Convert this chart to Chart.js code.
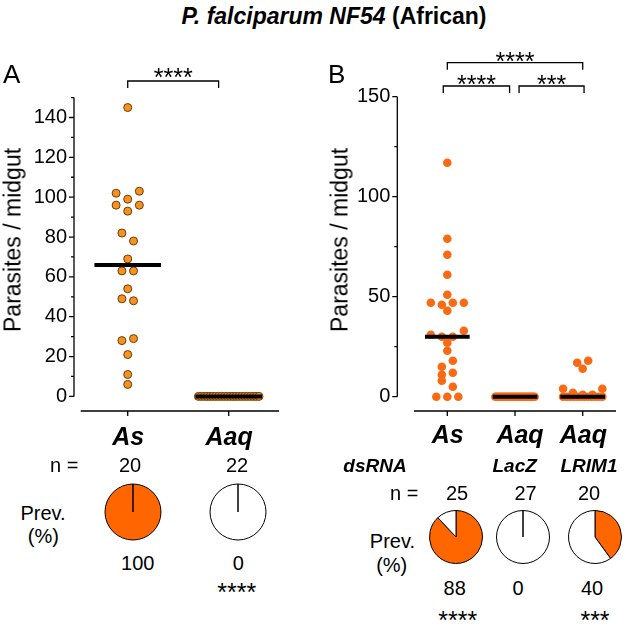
<!DOCTYPE html>
<html>
<head>
<meta charset="utf-8">
<script src="https://cdn.jsdelivr.net/npm/chart.js@4.4.0/dist/chart.umd.min.js"></script>
<style>
  body { margin: 0; background: #fff; width: 625px; height: 624px; position: relative; overflow: hidden; }
  canvas { position: absolute; }
  .t { position: absolute; white-space: nowrap; color: #000; }
</style>
</head>
<body>
<canvas id="chartA" width="300" height="385" style="left:0px;top:40px"></canvas>
<canvas id="chartB" width="315" height="385" style="left:310px;top:40px"></canvas>
<canvas id="pieA0" width="60" height="60" style="left:103px;top:482px"></canvas>
<canvas id="pieA1" width="60" height="60" style="left:208px;top:482px"></canvas>
<canvas id="pieB0" width="58" height="58" style="left:427px;top:508px"></canvas>
<canvas id="pieB1" width="58" height="58" style="left:494px;top:508px"></canvas>
<canvas id="pieB2" width="58" height="58" style="left:566px;top:508px"></canvas>
<script>
// ---- data ----
const groupsA = ['As', 'Aaq'];
const parasitesA_As = [145, 102, 99, 103, 96, 93, 96, 82, 78, 69, 63, 63, 54, 49, 48, 28, 29, 21, 6, 11];
const parasitesA_Aaq = [0, 0, 0, 0, 0, 0, 0, 0, 0, 0, 0, 0, 0, 0, 0, 0, 0, 0, 0, 0, 0, 0];
const sigA = ['', '****'];

const groupsB = ['As', 'Aaq', 'Aaq'];
const dsrnaB = ['', 'LacZ', 'LRIM1'];
const parasitesB_As = [117, 79, 71, 61, 51, 47, 46, 43, 47, 47, 31, 30, 30, 33, 27, 23, 15, 18, 11, 8, 12, 0, 0, 0, 5];
const parasitesB_LacZ = [0, 0, 0, 0, 0, 0, 0, 0, 0, 0, 0, 0, 0, 0, 0, 0, 0, 0, 0, 0, 0, 0, 0, 0, 0, 0, 0];
const parasitesB_LRIM1 = [17, 14, 18, 4, 2, 1, 0, 0, 0, 0, 0, 0, 0, 0, 0, 0, 0, 0, 1, 4];
const sigB = ['****', '', '***'];

const yTicksA = [0, 20, 40, 60, 80, 100, 120, 140];
const yMinorA = [10, 30, 50, 70, 90, 110, 130, 150];
const yTicksB = [0, 50, 100, 150];
const yMinorB = [25, 75, 125];

const bracketsA = [{ from: 0, to: 0.9, rise: 16.6, label: '****' }];
const bracketsB = [
  { from: 0, to: 2, rise: 34, label: '****' },
  { from: -0.06, to: 0.92, rise: 10.7, label: '****' },
  { from: 1.06, to: 2.02, rise: 10.7, label: '***' }
];

const FONT = '"Liberation Sans", Arial, Helvetica, sans-serif';

// spread points of similar value side by side (column scatter)
function swarm(values, center, binSize, step, maxHalf) {
  const idx = values.map((v, i) => i).sort((a, b) => values[b] - values[a] || a - b);
  const pts = [];
  let bin = [];
  let start = 0;
  const flush = () => {
    bin.sort((a, b) => a - b);
    const k = bin.length;
    const s = k > 1 ? Math.min(step, 2 * maxHalf / (k - 1)) : 0;
    bin.forEach((i, j) => pts.push({ x: center + (j - (k - 1) / 2) * s, y: values[i] }));
    bin = [];
  };
  idx.forEach(i => {
    if (bin.length && start - values[i] >= binSize) flush();
    if (!bin.length) start = values[i];
    bin.push(i);
  });
  flush();
  return pts;
}

function median(values) {
  const s = values.slice().sort((a, b) => a - b);
  const m = Math.floor(s.length / 2);
  return s.length % 2 ? s[m] : (s[m - 1] + s[m]) / 2;
}

function medianLine(values, i) {
  const m = median(values);
  return {
    type: 'line',
    data: [{ x: i - 0.33, y: m }, { x: i + 0.33, y: m }],
    borderColor: '#000',
    borderWidth: 4,
    pointRadius: 0,
    order: 0
  };
}

// axis lines, minor ticks and significance brackets, GraphPad style
const axesPlugin = {
  id: 'axes',
  afterDatasetsDraw(chart, args, o) {
    const ctx = chart.ctx;
    const x = chart.scales.x, y = chart.scales.y;
    const a = chart.chartArea;
    ctx.save();
    ctx.strokeStyle = '#000';
    ctx.lineWidth = 1.3;
    ctx.beginPath();
    ctx.moveTo(a.left, y.getPixelForValue(0));
    ctx.lineTo(a.left, y.getPixelForValue(o.yTop));
    o.major.forEach(v => { const p = y.getPixelForValue(v); ctx.moveTo(a.left - 5, p); ctx.lineTo(a.left, p); });
    o.minor.forEach(v => { const p = y.getPixelForValue(v); ctx.moveTo(a.left - 3, p); ctx.lineTo(a.left, p); });
    ctx.moveTo(a.left + o.xGap, a.bottom);
    ctx.lineTo(a.right, a.bottom);
    for (let i = 0; i < o.cats; i++) {
      const p = x.getPixelForValue(i);
      ctx.moveTo(p, a.bottom);
      ctx.lineTo(p, a.bottom + 5);
    }
    ctx.stroke();
    ctx.fillStyle = '#000';
    ctx.font = '25px ' + FONT;
    ctx.textAlign = 'center';
    ctx.textBaseline = 'alphabetic';
    o.brackets.forEach(b => {
      const x1 = x.getPixelForValue(b.from), x2 = x.getPixelForValue(b.to);
      const yy = a.top - b.rise;
      ctx.beginPath();
      ctx.moveTo(x1, yy + 7);
      ctx.lineTo(x1, yy);
      ctx.lineTo(x2, yy);
      ctx.lineTo(x2, yy + 7);
      ctx.stroke();
      ctx.fillText(b.label, (x1 + x2) / 2, yy - o.labelGap + 0.58 * 25);
    });
    ctx.restore();
  }
};

function scatterChart(id, groups, sets, cfg) {
  const datasets = [];
  sets.forEach((vals, i) => datasets.push(medianLine(vals, i)));
  sets.forEach((vals, i) => datasets.push({
    type: 'scatter',
    data: swarm(vals, i, cfg.bin, cfg.step, cfg.maxHalf),
    backgroundColor: cfg.fill,
    borderColor: cfg.stroke,
    borderWidth: cfg.strokeWidth,
    pointRadius: cfg.radius,
    order: 1
  }));
  return new Chart(document.getElementById(id), {
    type: 'scatter',
    data: { datasets: datasets },
    options: {
      responsive: false,
      animation: false,
      events: [],
      layout: { padding: cfg.padding },
      plugins: {
        legend: { display: false },
        tooltip: { enabled: false },
        axes: {
          yTop: cfg.yMax, major: cfg.major, minor: cfg.minor, xGap: cfg.xGap,
          cats: groups.length, brackets: cfg.brackets, labelGap: cfg.labelGap
        }
      },
      scales: {
        x: { type: 'linear', min: cfg.xMin, max: cfg.xMax, display: false },
        y: {
          min: cfg.yMin, max: cfg.yMax,
          afterBuildTicks: s => { s.ticks = cfg.major.map(v => ({ value: v })); },
          afterFit: s => { s.width = cfg.yWidth; },
          grid: { display: false, drawTicks: true, tickLength: 5 },
          border: { display: false },
          ticks: { padding: 2, color: '#000', font: { family: FONT, size: 20 } }
        }
      }
    },
    plugins: [axesPlugin]
  });
}

scatterChart('chartA', groupsA, [parasitesA_As, parasitesA_Aaq], {
  bin: 5, step: 0.115, maxHalf: 0.3, fill: '#F7921E', stroke: '#6E3A0C', strokeWidth: 1, radius: 4,
  padding: { left: 0, top: 57.6, right: 21, bottom: 12.3 },
  xMin: -0.532, xMax: 1.498, yMin: -7.34, yMax: 150, yWidth: 74, xGap: 6.7,
  major: yTicksA, minor: yMinorA, brackets: bracketsA, labelGap: 9.3
});

scatterChart('chartB', groupsB, [parasitesB_As, parasitesB_LacZ, parasitesB_LRIM1], {
  bin: 4, step: 0.1625, maxHalf: 0.29, fill: '#F96A12', stroke: '#F96A12', strokeWidth: 0, radius: 4.3,
  padding: { left: 0, top: 56.7, right: 9, bottom: 12.3 },
  xMin: -0.739, xMax: 2.492, yMin: -7.16, yMax: 150, yWidth: 87.3, xGap: 16.7,
  major: yTicksB, minor: yMinorB, brackets: bracketsB, labelGap: 7.2
});

function pie(id, values, radius) {
  const pos = values.filter(v => v > 0).length;
  new Chart(document.getElementById(id), {
    type: 'pie',
    data: { datasets: [{ data: [pos, values.length - pos], backgroundColor: ['#FF6600', '#FFFFFF'], borderColor: '#000', borderWidth: 1, radius: radius }] },
    options: { responsive: false, animation: false, events: [], plugins: { legend: { display: false }, tooltip: { enabled: false } } }
  });
  return Math.round(100 * pos / values.length);
}

// ---- text ----
function put(text, x, base, size, style, align) {
  const d = document.createElement('div');
  d.className = 't';
  d.textContent = text;
  d.style.font = style + ' ' + size + 'px ' + FONT;
  d.style.lineHeight = '1';
  d.style.top = (base - 0.8465 * size) + 'px';
  if (align === 'center') { d.style.left = x + 'px'; d.style.transform = 'translateX(-50%)'; }
  else if (align === 'right') { d.style.right = (625 - x) + 'px'; }
  else { d.style.left = x + 'px'; }
  document.body.appendChild(d);
  return d;
}
function vtitle(text, cx, cy) {
  const d = put(text, cx, 0, 23, 'normal', 'center');
  d.style.top = cy + 'px';
  d.style.transform = 'translate(-50%,-50%) rotate(-90deg)';
}

const title = put('', 334, 24, 23, 'bold', 'center');
title.innerHTML = '<i>P. falciparum NF54</i> (African)';

put('A', 3, 83, 26, 'normal', 'left');
put('B', 328, 83, 26, 'normal', 'left');
vtitle('Parasites / midgut', 13, 240);
vtitle('Parasites / midgut', 339.5, 240);

// panel A footer
const setsA = [parasitesA_As, parasitesA_Aaq];
const catXA = [128.3, 229.2], nXA = [130, 237], prevXA = [137.8, 238.3];
groupsA.forEach((g, i) => put(g, catXA[i], 445, 25, 'italic bold', 'center'));
put('n =', 78.3, 472, 20, 'normal', 'right');
setsA.forEach((v, i) => put(String(v.length), nXA[i], 472, 20, 'normal', 'center'));
put('Prev.', 43, 520, 20, 'normal', 'center');
put('(%)', 43.3, 543, 20, 'normal', 'center');
const prevA = [pie('pieA0', parasitesA_As, 28), pie('pieA1', parasitesA_Aaq, 28)];
prevA.forEach((p, i) => put(String(p), prevXA[i], 570, 20, 'normal', 'center'));
sigA.forEach((s, i) => { if (s) put(s, prevXA[i] - 1.6, 586.7 + 0.58 * 25, 25, 'normal', 'center'); });

// panel B footer
const setsB = [parasitesB_As, parasitesB_LacZ, parasitesB_LRIM1];
const catXB = [447.8, 520, 583.3], subXB = [375, 514.7, 589], nXB = [457, 525.5, 589], prevXB = [454.7, 518, 592];
groupsB.forEach((g, i) => put(g, catXB[i], 443, 25, 'italic bold', 'center'));
put('dsRNA', subXB[0], 472, 19, 'italic bold', 'center');
dsrnaB.forEach((d, i) => { if (d) put(d, subXB[i], 472, 19, 'italic bold', 'center'); });
put('n =', 418.3, 500, 20, 'normal', 'right');
setsB.forEach((v, i) => put(String(v.length), nXB[i], 500, 20, 'normal', 'center'));
put('Prev.', 415, 548, 20, 'normal', 'right');
put('(%)', 391.7, 572, 20, 'normal', 'center');
const prevB = [pie('pieB0', parasitesB_As, 26.5), pie('pieB1', parasitesB_LacZ, 26.5), pie('pieB2', parasitesB_LRIM1, 26.5)];
prevB.forEach((p, i) => put(String(p), prevXB[i], 595, 20, 'normal', 'center'));
sigB.forEach((s, i) => { if (s) put(s, prevXB[i] + 3, 615 + 0.58 * 25, 25, 'normal', 'center'); });
</script>
</body>
</html>
